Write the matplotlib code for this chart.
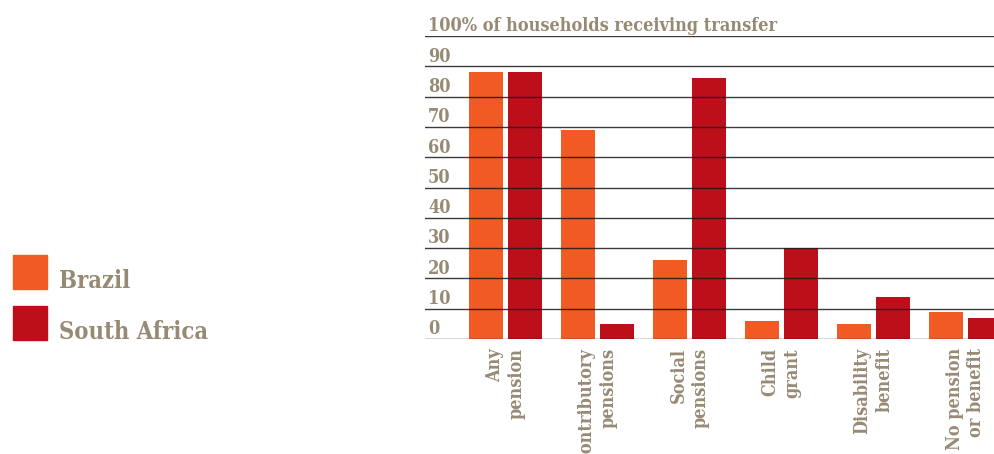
import numpy as np
import matplotlib
matplotlib.use('Agg')
import matplotlib.pyplot as plt
from matplotlib.patches import Rectangle

# 數據
categories = ['Any\npension', 'Contributory\npensions', 'Social\npensions',
              'Child\ngrant', 'Disability\nbenefit', 'No pension\nor benefit']
brazil = [88, 69, 26, 6, 5, 9]
south_africa = [88, 5, 86, 30, 14, 7]
y_ticks = [0, 10, 20, 30, 40, 50, 60, 70, 80, 90, 100]
y_labels = ['0', '10', '20', '30', '40', '50', '60', '70', '80', '90',
            '100% of households receiving transfer']
series_names = ['Brazil', 'South Africa']

ORANGE = '#F15A22'
RED = '#BD0F1A'
TXT = '#978A75'
FONT = ['DejaVu Serif']
STRETCH = 'condensed'

fig = plt.figure(figsize=(9.94, 4.54), dpi=100)
ax = fig.add_axes([425 / 994, 1 - 339 / 454, 569 / 994, 303 / 454])

x = np.arange(len(categories))
w = 0.37
off = 0.212
ax.bar(x - off, brazil, w, color=ORANGE, zorder=1)
ax.bar(x + off, south_africa, w, color=RED, zorder=1)

# 格線（在長條之上）
for t in y_ticks:
    ax.axhline(t, color='#1a1a1a', lw=1.0, alpha=0.85, zorder=3)

# y 軸標籤放在格線上方
for t, lab in zip(y_ticks, y_labels):
    ax.text(3 / 569, t + 1.55, lab, transform=ax.get_yaxis_transform(),
            ha='left', va='baseline', color=TXT, fontsize=13,
            family=FONT, fontweight='bold', fontstretch=STRETCH, zorder=4)

# x 軸標籤
for xi, lab in zip(x, categories):
    ax.text(xi, -3, lab, rotation=90, ha='center', va='top',
            multialignment='right', color=TXT, fontsize=13, family=FONT,
            fontweight='bold', fontstretch=STRETCH, linespacing=1.25)

ax.set_xlim(-0.875, 5.31)
ax.set_ylim(0, 100)
ax.axis('off')

# 圖例
for i, (name, col) in enumerate(zip(series_names, [ORANGE, RED])):
    top = 255 + i * 51
    fig.patches.append(Rectangle((13 / 994, 1 - (top + 34) / 454), 34 / 994, 34 / 454,
                                 transform=fig.transFigure, color=col))
    fig.text(59 / 994, 1 - (top + 33) / 454, name, ha='left', va='baseline',
             color=TXT, fontsize=17, family=FONT, fontweight='bold',
             fontstretch=STRETCH)

fig.savefig('out.png', dpi=100)
